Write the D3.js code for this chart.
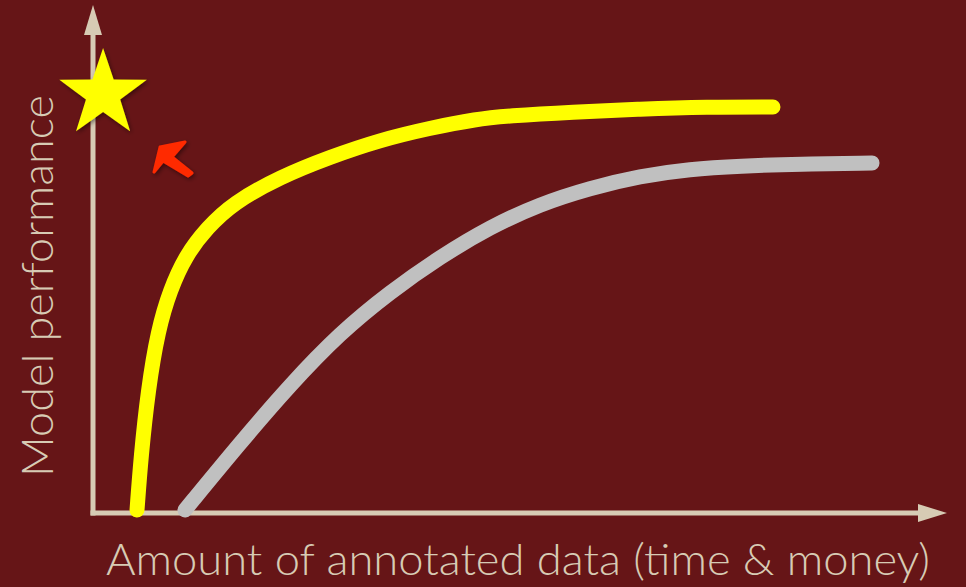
<!DOCTYPE html>
<html>
<head>
<meta charset="utf-8">
<script src="https://cdn.jsdelivr.net/npm/d3@7"></script>
<style>
  html, body { margin: 0; padding: 0; background: #661517; }
  svg { display: block; }
</style>
</head>
<body>
<svg id="chart" width="966" height="587"></svg>
<script>
// Effort (amount of annotated data) vs. model performance, both on a 0–100 scale
const fastX = [5.24, 5.71, 6.55, 7.74, 9.17, 11.07, 13.57, 16.67, 22.26, 28.21, 34.17, 40.12, 45.71, 49.29, 57.14, 65.12, 73.10, 80.95];
const fastY = [0.6, 11.2, 24.6, 36.6, 44.6, 51.6, 57.0, 62.0, 67.2, 71.2, 74.6, 77.0, 78.8, 79.4, 80.2, 80.8, 81.2, 81.2];
const slowX = [10.95, 17.50, 23.45, 29.40, 35.36, 41.31, 47.26, 53.21, 59.17, 65.12, 71.07, 77.02, 84.17, 92.74];
const slowY = [0.6, 14.0, 25.6, 36.0, 44.2, 51.2, 57.2, 61.8, 65.0, 67.4, 68.8, 69.4, 69.8, 70.0];
const xTitle = "Amount of annotated data (time & money)";
const yTitle = "Model performance";
// Target point (star) and the pointer towards it, in data units
const targetX = [1.2];
const targetY = [83.8];
const pointerX = [10.36];
const pointerY = [71.0];

const svg = d3.select("#chart");
const W = 966, H = 587;
const bg = "#661517", axisColor = "#d7cbb4";

const x = d3.scaleLinear().domain([0, 100]).range([93, 933]);
const y = d3.scaleLinear().domain([0, 100]).range([513, 13]);

svg.append("rect").attr("width", W).attr("height", H).attr("fill", bg);

const defs = svg.append("defs");
const sh = defs.append("filter").attr("id", "shadow").attr("x", "-30%").attr("y", "-30%").attr("width", "160%").attr("height", "160%");
sh.append("feDropShadow").attr("dx", 1.5).attr("dy", 2).attr("stdDeviation", 2.2)
  .attr("flood-color", "#000").attr("flood-opacity", 0.45);

// Axes with arrowheads
const ax = svg.append("g");
const x0 = x(0), y0 = y(0);
ax.append("line").attr("x1", x0).attr("y1", y0 + 2.5).attr("x2", x0).attr("y2", 30)
  .attr("stroke", axisColor).attr("stroke-width", 5);
ax.append("path").attr("d", `M${x0},5 L${x0 + 9},35 L${x0 - 9},35 Z`).attr("fill", axisColor);
ax.append("line").attr("x1", x0 - 2.5).attr("y1", y0).attr("x2", 922).attr("y2", y0)
  .attr("stroke", axisColor).attr("stroke-width", 5);
ax.append("path").attr("d", `M947,${y0} L918,${y0 - 9} L918,${y0 + 9} Z`).attr("fill", axisColor);

// Curves
const line = d3.line().x(d => x(d[0])).y(d => y(d[1])).curve(d3.curveBasis);
const slow = d3.zip(slowX, slowY);
const fast = d3.zip(fastX, fastY);
svg.append("path").datum(slow).attr("d", line)
  .attr("fill", "none").attr("stroke", "#c0c0c0").attr("stroke-width", 15)
  .attr("stroke-linecap", "round").attr("stroke-linejoin", "round");
svg.append("path").datum(fast).attr("d", line)
  .attr("fill", "none").attr("stroke", "#ffff00").attr("stroke-width", 15)
  .attr("stroke-linecap", "round").attr("stroke-linejoin", "round");

// Star at the target
const R = 46, r = 18;
const starPts = d3.range(10).map(i => {
  const a = -Math.PI / 2 + i * Math.PI / 5;
  const rad = i % 2 === 0 ? R : r;
  return [x(targetX[0]) + rad * Math.cos(a), y(targetY[0]) + rad * Math.sin(a)];
});
svg.append("path").attr("d", "M" + starPts.join("L") + "Z")
  .attr("fill", "#ffff00").attr("filter", "url(#shadow)");

// Pointer arrow
const px = x(pointerX[0]), py = y(pointerY[0]);
const arrow = [[5, -16], [-20, -11], [-26, 14], [-17, 3], [8, 18], [12, 15], [-8, -1]];
svg.append("path")
  .attr("d", "M" + arrow.map(p => [px + p[0], py + p[1]]).join("L") + "Z")
  .attr("fill", "#ff2a00").attr("stroke", "#ff2a00").attr("stroke-width", 3)
  .attr("stroke-linejoin", "round").attr("filter", "url(#shadow)");

// Axis titles
const font = "Lato, 'Open Sans', sans-serif";
svg.append("text").attr("x", 106).attr("y", 575)
  .attr("font-family", font).attr("font-weight", 300).attr("font-size", 44)
  .attr("fill", axisColor).attr("textLength", 824).attr("lengthAdjust", "spacingAndGlyphs")
  .text(xTitle);
svg.append("text").attr("transform", "translate(53,477) rotate(-90)")
  .attr("font-family", font).attr("font-weight", 300).attr("font-size", 44)
  .attr("fill", axisColor).attr("textLength", 382).attr("lengthAdjust", "spacingAndGlyphs")
  .text(yTitle);
</script>
</body>
</html>
